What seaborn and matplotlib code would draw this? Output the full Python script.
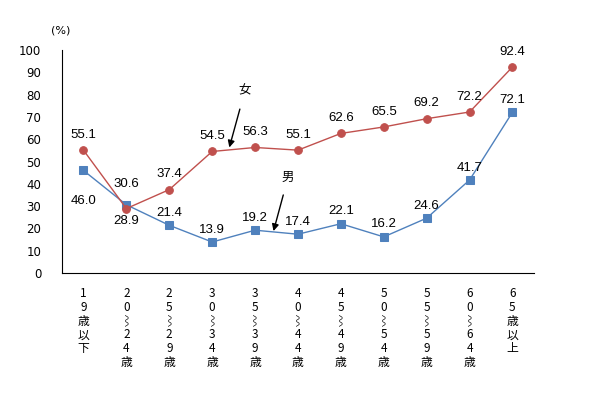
import matplotlib
matplotlib.use("Agg")
import matplotlib.pyplot as plt
import seaborn as sns
import pandas as pd

sns.set_style("white")
plt.rcParams['font.family'] = ['DejaVu Sans', 'Noto Sans CJK JP']
plt.rcParams['text.color'] = 'black'
plt.rcParams['xtick.color'] = 'black'
plt.rcParams['ytick.color'] = 'black'

# データ
age_groups = ["19歳以下", "20～24歳", "25～29歳", "30～34歳", "35～39歳", "40～44歳",
              "45～49歳", "50～54歳", "55～59歳", "60～64歳", "65歳以上"]
tick_labels = ["1\n9\n歳\n以\n下", "2\n0\n⌇\n2\n4\n歳", "2\n5\n⌇\n2\n9\n歳",
               "3\n0\n⌇\n3\n4\n歳", "3\n5\n⌇\n3\n9\n歳", "4\n0\n⌇\n4\n4\n歳",
               "4\n5\n⌇\n4\n9\n歳", "5\n0\n⌇\n5\n4\n歳", "5\n5\n⌇\n5\n9\n歳",
               "6\n0\n⌇\n6\n4\n歳", "6\n5\n歳\n以\n上"]
female = [55.1, 28.9, 37.4, 54.5, 56.3, 55.1, 62.6, 65.5, 69.2, 72.2, 92.4]
male = [46.0, 30.6, 21.4, 13.9, 19.2, 17.4, 22.1, 16.2, 24.6, 41.7, 72.1]

red = "#C0504D"
blue = "#4F81BD"

df = pd.DataFrame({"x": range(len(age_groups)), "女": female, "男": male})

fig = plt.figure(figsize=(6.05, 3.97), dpi=100)
ax = fig.add_axes([0.1025, 0.3123, 0.78, 0.5617])

sns.lineplot(data=df, x="x", y="男", ax=ax, color=blue, marker="s", markersize=5.5,
             markeredgecolor=blue, linewidth=1)
sns.lineplot(data=df, x="x", y="女", ax=ax, color=red, marker="o", markersize=5.5,
             markeredgecolor=red, linewidth=1)

lab_font = ['Liberation Sans', 'DejaVu Sans']
for i, v in enumerate(female):
    dy = -9 if i == 1 else 11
    ax.annotate(f"{v:.1f}", (i, v), xytext=(0, dy), textcoords="offset points",
                ha="center", va="center", fontsize=9.5, family=lab_font)
for i, v in enumerate(male):
    dy = 9
    if i == 0:
        dy = -22
    elif i == 1:
        dy = 15
    ax.annotate(f"{v:.1f}", (i, v), xytext=(0, dy), textcoords="offset points",
                ha="center", va="center", fontsize=9.5, family=lab_font)

# 矢印
ax.annotate("女", xy=(3.4, 56.3), xytext=(3.76, 81.5), ha="center", va="center", fontsize=9,
            family=['Noto Sans CJK JP'],
            arrowprops=dict(arrowstyle="-|>", color="black", lw=1, mutation_scale=10,
                            shrinkA=6, shrinkB=0))
ax.annotate("男", xy=(4.43, 18.8), xytext=(4.77, 43), ha="center", va="center", fontsize=9,
            family=['Noto Sans CJK JP'],
            arrowprops=dict(arrowstyle="-|>", color="black", lw=1, mutation_scale=10,
                            shrinkA=6, shrinkB=0))

ax.set_xlim(-0.5, len(age_groups) - 0.5)
ax.set_ylim(0, 100)
ax.set_yticks(range(0, 101, 10))
ax.set_xticks(range(len(age_groups)))
ax.set_xticklabels(tick_labels, fontsize=8.5, linespacing=1.08, va="top",
                   family=['Noto Sans CJK JP', 'DejaVu Sans'])
ax.tick_params(axis="x", length=0, pad=10)
ax.tick_params(axis="y", direction="in", length=4, width=0.8, labelsize=8.5, pad=15)
ax.set_xlabel("")
ax.set_ylabel("")
for s in ["top", "right"]:
    ax.spines[s].set_visible(False)
for s in ["left", "bottom"]:
    ax.spines[s].set_color("black")
    ax.spines[s].set_linewidth(0.8)

fig.text(0.101, 0.924, "(%)", fontsize=8, ha="center", va="center")

fig.savefig("out.png", dpi=100)
